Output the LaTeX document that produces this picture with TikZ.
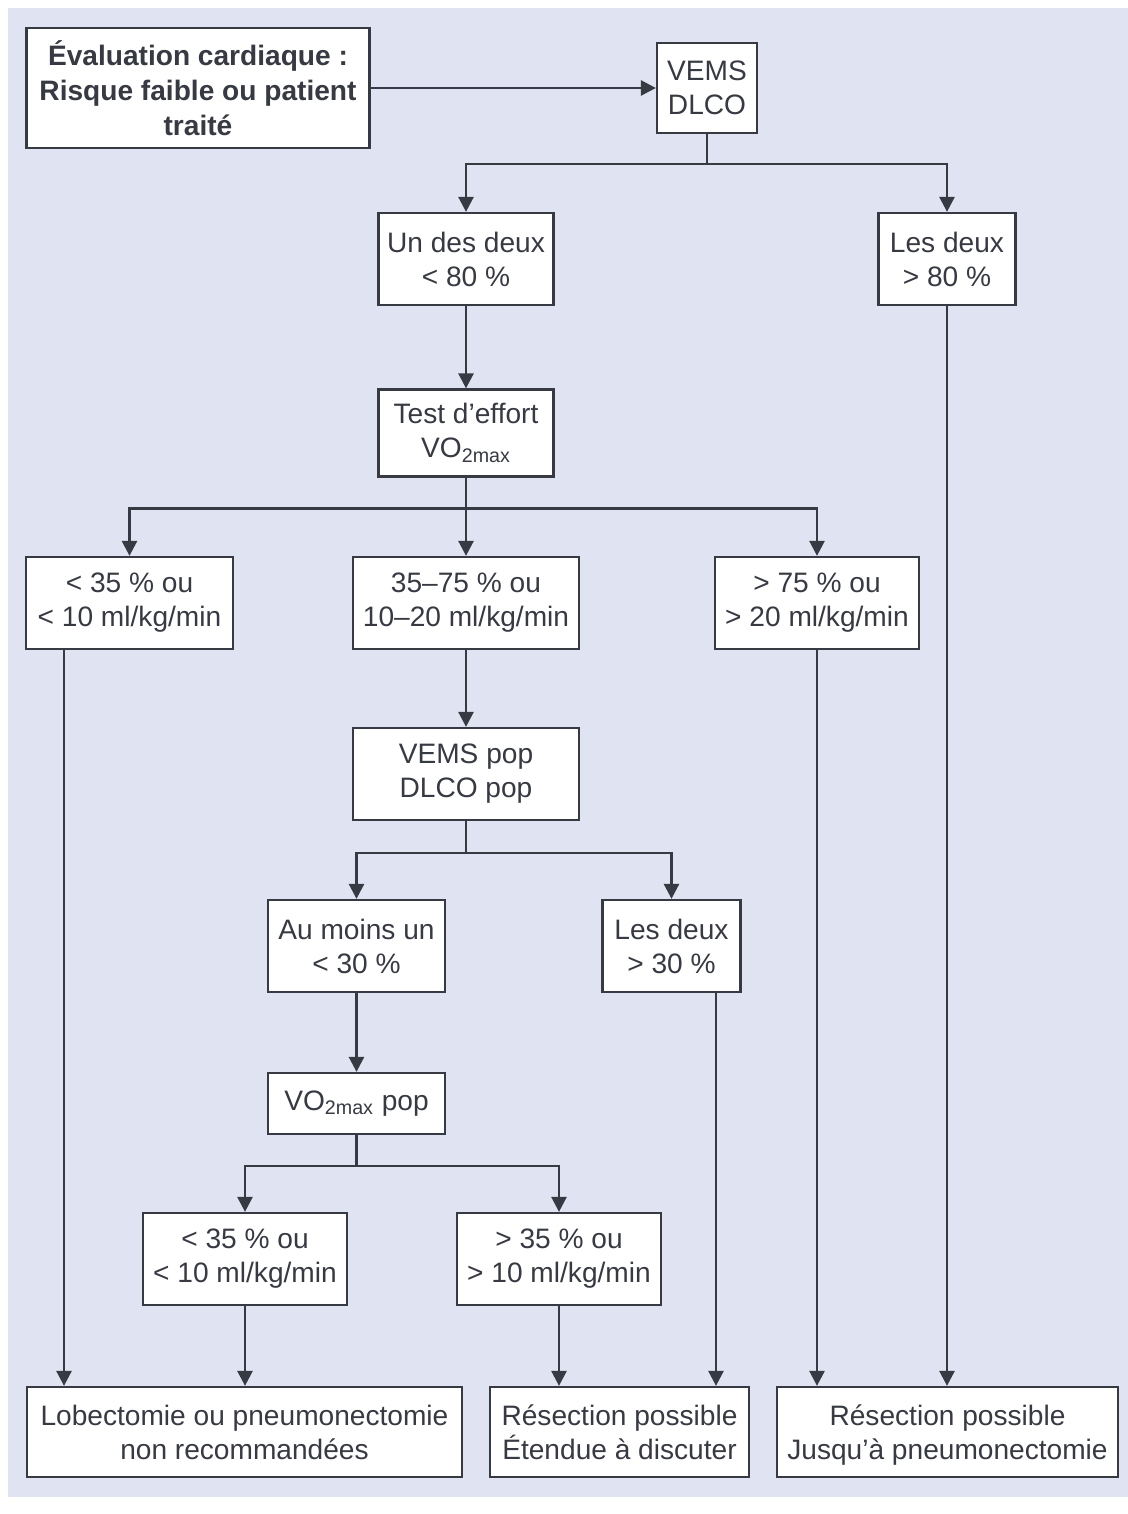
\documentclass[tikz,border=0pt]{standalone}
\usepackage{fontspec}
\setmainfont{Liberation Sans}
\usepackage{tikz}
\usetikzlibrary{arrows.meta,positioning,calc}
\definecolor{ink}{RGB}{55,58,66}
\definecolor{panel}{RGB}{224,228,242}
\tikzset{
  box/.style={draw=ink,fill=white,line width=1.3pt,align=center,text=ink,
    inner sep=0pt,minimum height=1.84cm,font=\fontsize{16}{19.4}\selectfont},
  arr/.style={-{Triangle[length=3mm,width=3mm]},line width=1.5pt,draw=ink},
  wire/.style={line width=1.5pt,draw=ink},
}

\begin{document}
\begin{tikzpicture}[x=0.02cm,y=-0.02cm]
\useasboundingbox (0,0) rectangle (1128,1514);
\fill[panel] (8,8) rectangle (1128,1497);
% top row
\node[box, minimum width=6.86cm, minimum height=2.4cm, font=\fontsize{16}{19.8}\selectfont\bfseries]
  (eval) at (198,88) {Évaluation cardiaque :\\Risque faible ou patient\\traité};
\node[box, minimum width=2cm, minimum height=1.8cm] (vems) at (707,88) {VEMS\\DLCO};
% first split
\node[box, minimum width=3.5cm] (un) at (466,259) {Un des deux\\< 80 \%};
\node[box, minimum width=2.74cm] (les80) at (947,259) {Les deux\\> 80 \%};
\node[box, minimum width=3.5cm, minimum height=1.74cm] (test) at (466,433) {Test d’effort\\VO\textsubscript{2max}};
% VO2max results
\node[box, minimum width=4.14cm] (lt35) at (129.5,603) {< 35 \% ou\\< 10 ml/kg/min};
\node[box, minimum width=4.52cm] (mid) at (466,603) {35–75 \% ou\\10–20 ml/kg/min};
\node[box, minimum width=4.08cm] (gt75) at (817,603) {> 75 \% ou\\> 20 ml/kg/min};
\node[box, minimum width=4.52cm] (pop) at (466,774) {VEMS pop\\DLCO pop};
\node[box, minimum width=3.54cm] (aumoins) at (356.5,946) {Au moins un\\< 30 \%};
\node[box, minimum width=2.76cm] (les30) at (671.5,946) {Les deux\\> 30 \%};
\node[box, minimum width=3.54cm, minimum height=1.22cm] (vopop) at (356.5,1103.5) {VO\textsubscript{2max} pop};
\node[box, minimum width=4.08cm] (plt35) at (245,1259) {< 35 \% ou\\< 10 ml/kg/min};
\node[box, minimum width=4.08cm] (pgt35) at (559,1259) {> 35 \% ou\\> 10 ml/kg/min};
% outcomes
\node[box, minimum width=8.7cm, minimum height=1.8cm] (lobe) at (244.5,1432) {Lobectomie ou pneumonectomie\\non recommandées};
\node[box, minimum width=5.18cm, minimum height=1.8cm] (resA) at (619.5,1432) {Résection possible\\Étendue à discuter};
\node[box, minimum width=6.82cm, minimum height=1.8cm] (resB) at (947.5,1432) {Résection possible\\\raisebox{0pt}[\height][0pt]{Jusqu’à pneumonectomie}};

\draw[arr] (eval) -- (vems);
\draw[wire] (vems.south) -- ++(0,30) coordinate (j1);
\draw[arr] (j1) -| (un.north);
\draw[arr] (j1) -| (les80.north);
\draw[arr] (un) -- (test);
\draw[wire] (test.south) -- ++(0,31) coordinate (j2);
\draw[arr] (j2) -| (lt35.north);
\draw[arr] (j2) -- (mid.north);
\draw[arr] (j2) -| (gt75.north);
\draw[arr] (mid) -- (pop);
\draw[wire] (pop.south) -- ++(0,32) coordinate (j3);
\draw[arr] (j3) -| (aumoins.north);
\draw[arr] (j3) -| (les30.north);
\draw[arr] (aumoins) -- (vopop);
\draw[wire] (vopop.south) -- ++(0,31) coordinate (j4);
\draw[arr] (j4) -| (plt35.north);
\draw[arr] (j4) -| (pgt35.north);
% into outcomes
\draw[arr] ([xshift=-1.31cm]lt35.south) -- ([xshift=-1.31cm]lt35.south |- lobe.north);
\draw[arr] (plt35) -- (plt35 |- lobe.north);
\draw[arr] (pgt35) -- (pgt35 |- resA.north);
\draw[arr] ([xshift=0.89cm]les30.south) -- ([xshift=0.89cm]les30.south |- resA.north);
\draw[arr] (gt75) -- (gt75 |- resB.north);
\draw[arr] (les80) -- (les80 |- resB.north);
\end{tikzpicture}
\end{document}
